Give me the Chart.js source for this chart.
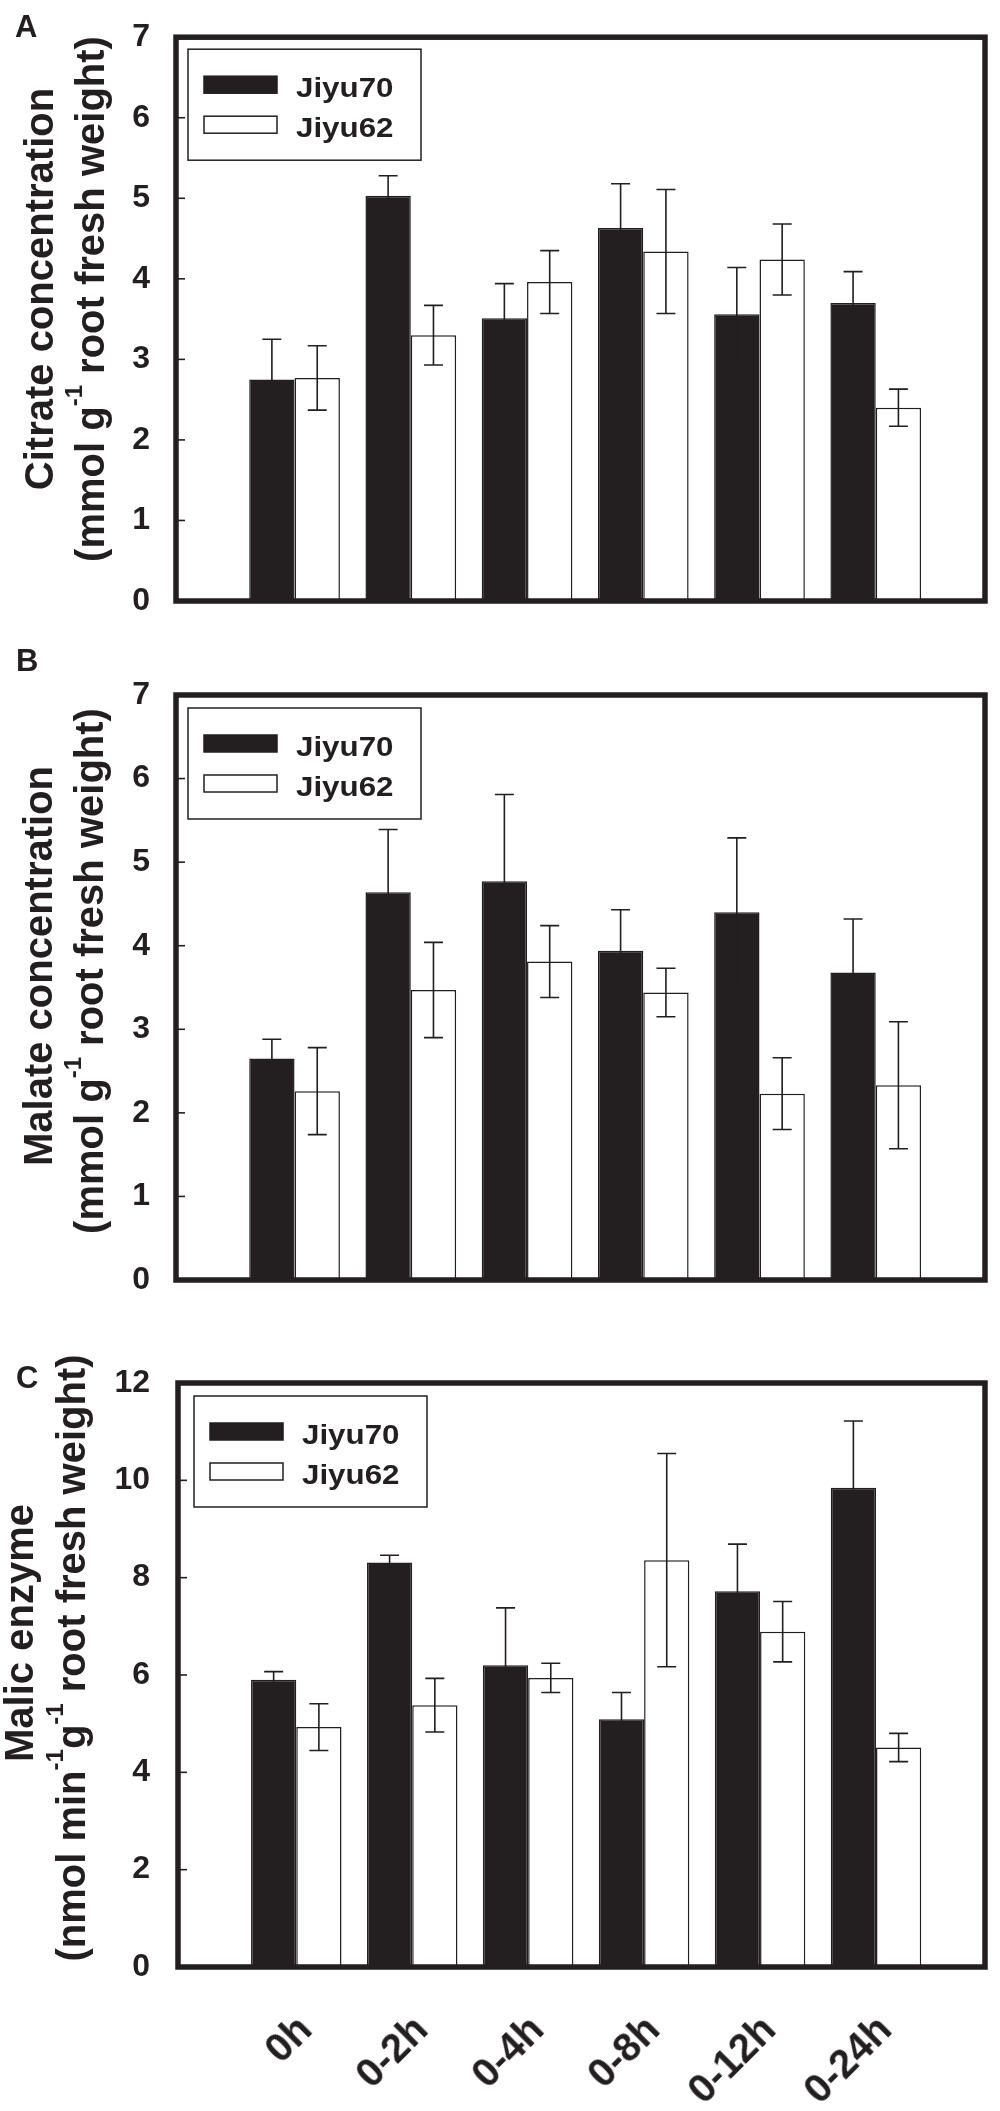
<!DOCTYPE html>
<html><head><meta charset="utf-8">
<script src="https://cdn.jsdelivr.net/npm/chart.js@4.4.1/dist/chart.umd.min.js"></script>
<style>
html,body{margin:0;padding:0;background:#fff;}
body{width:1000px;height:2111px;position:relative;overflow:hidden;}
canvas{position:absolute;left:0;}
</style></head><body>
<canvas id="cA" width="1000" height="640" style="top:0px"></canvas>
<canvas id="cB" width="1000" height="700" style="top:640px"></canvas>
<canvas id="cC" width="1000" height="771" style="top:1340px"></canvas>
<script>
// ---------------- data ----------------
const categories = ['0h', '0-2h', '0-4h', '0-8h', '0-12h', '0-24h'];
const seriesNames = ['Jiyu70', 'Jiyu62'];

const citrateJiyu70    = [2.75, 5.03, 3.51, 4.63, 3.56, 3.70];
const citrateJiyu70Err = [0.50, 0.25, 0.43, 0.55, 0.58, 0.39];
const citrateJiyu62    = [2.77, 3.30, 3.96, 4.34, 4.24, 2.40];
const citrateJiyu62Err = [0.40, 0.37, 0.39, 0.77, 0.44, 0.23];

const malateJiyu70     = [2.65, 4.64, 4.77, 3.94, 4.40, 3.68];
const malateJiyu70Err  = [0.23, 0.75, 1.04, 0.49, 0.89, 0.64];
const malateJiyu62     = [2.26, 3.47, 3.81, 3.44, 2.23, 2.33];
const malateJiyu62Err  = [0.52, 0.57, 0.43, 0.29, 0.43, 0.76];

const enzymeJiyu70     = [5.90, 8.31, 6.20, 5.09, 7.72, 9.85];
const enzymeJiyu70Err  = [0.17, 0.15, 1.18, 0.55, 0.97, 1.37];
const enzymeJiyu62     = [4.93, 5.38, 5.94, 8.36, 6.89, 4.51];
const enzymeJiyu62Err  = [0.48, 0.55, 0.30, 2.19, 0.62, 0.29];

const concentrationTicks = [0, 1, 2, 3, 4, 5, 6, 7];
const enzymeTicks = [0, 2, 4, 6, 8, 10, 12];

// ---------------- styling ----------------
const INK = '#231f20';
const FONT = '"Liberation Sans", Arial, Helvetica, sans-serif';
Chart.defaults.font.family = FONT;
Chart.defaults.color = INK;

function drawTitleLine(ctx, segs, baseX, centerY, size) {
  let total = 0;
  const parts = segs.map(s => {
    const sz = s.sup ? Math.round(size * 0.6) : size;
    ctx.font = 'bold ' + sz + 'px ' + FONT;
    const w = ctx.measureText(s.t).width;
    total += w;
    return { t: s.t, sz: sz, w: w, sup: s.sup };
  });
  ctx.save();
  ctx.translate(baseX, centerY);
  ctx.rotate(-Math.PI / 2);
  ctx.fillStyle = INK;
  ctx.textBaseline = 'alphabetic';
  ctx.textAlign = 'left';
  let x = -total / 2;
  parts.forEach(p => {
    ctx.font = 'bold ' + p.sz + 'px ' + FONT;
    ctx.fillText(p.t, x, p.sup ? -size * 0.55 : 0);
    x += p.w;
  });
  ctx.restore();
}

// draws a label whose end (middle of its height) sits at (ax, ay), rotated -45 degrees
function drawDiagonalLabel(ctx, text, ax, ay, size) {
  const font = 'bold ' + size + 'px ' + FONT;
  ctx.font = font;
  const w = Math.ceil(ctx.measureText(text).width) + 4;
  const h = Math.ceil(size * 1.4);
  const off = document.createElement('canvas');
  off.width = w; off.height = h;
  const o = off.getContext('2d');
  o.font = font;
  o.fillStyle = INK;
  o.textAlign = 'right';
  o.textBaseline = 'middle';
  o.fillText(text, w - 2, h / 2);
  ctx.save();
  ctx.translate(ax, ay);
  ctx.rotate(-Math.PI / 4);
  ctx.drawImage(off, -(w - 2), -h / 2);
  ctx.restore();
}

const figPlugin = {
  id: 'fig',
  afterDatasetsDraw(chart, args, opts) {
    const ctx = chart.ctx;
    const a = chart.chartArea;
    const ys = chart.scales.y;
    ctx.save();
    // error bars
    ctx.strokeStyle = INK;
    ctx.lineWidth = 1.6;
    chart.data.datasets.forEach((ds, i) => {
      const meta = chart.getDatasetMeta(i);
      meta.data.forEach((el, j) => {
        const pt = ds.data[j], e = ds.errors[j];
        if (!pt || e == null) return;
        const x = el.x;
        const yt = ys.getPixelForValue(pt.y + e);
        const yb = ys.getPixelForValue(pt.y - e);
        const c = opts.cap / 2;
        ctx.beginPath();
        ctx.moveTo(x, yt); ctx.lineTo(x, yb);
        ctx.moveTo(x - c, yt); ctx.lineTo(x + c, yt);
        ctx.moveTo(x - c, yb); ctx.lineTo(x + c, yb);
        ctx.stroke();
      });
    });
    // inward tick marks on the y axis
    ctx.lineWidth = 1.6;
    ys.ticks.forEach(t => {
      const py = ys.getPixelForValue(t.value);
      ctx.beginPath();
      ctx.moveTo(a.left, py); ctx.lineTo(a.left + 9, py);
      ctx.stroke();
    });
    // frame
    ctx.lineWidth = 5.5;
    ctx.lineJoin = 'miter';
    ctx.strokeRect(a.left, a.top, a.right - a.left, a.bottom - a.top);
    // legend
    const lg = opts.legend;
    const bx = a.left + lg.dx, by = a.top + lg.dy;
    ctx.fillStyle = '#ffffff';
    ctx.fillRect(bx, by, lg.w, lg.h);
    ctx.lineWidth = 1.5;
    ctx.strokeRect(bx, by, lg.w, lg.h);
    chart.data.datasets.forEach((ds, i) => {
      const sy = by + lg.rows[i];
      ctx.fillStyle = ds.backgroundColor;
      ctx.fillRect(bx + lg.sx, sy, lg.sw, lg.sh);
      ctx.strokeStyle = INK;
      ctx.lineWidth = 1.5;
      ctx.strokeRect(bx + lg.sx, sy, lg.sw, lg.sh);
      ctx.save();
      ctx.translate(bx + lg.tx, sy + lg.sh / 2 + lg.base);
      ctx.scale(lg.stretch, 1);
      ctx.fillStyle = INK;
      ctx.font = 'bold ' + lg.font + 'px ' + FONT;
      ctx.textBaseline = 'alphabetic';
      ctx.textAlign = 'left';
      ctx.fillText(ds.label, 0, 0);
      ctx.restore();
    });
    ctx.restore();
  },
  afterDraw(chart, args, opts) {
    const ctx = chart.ctx;
    const a = chart.chartArea;
    ctx.save();
    ctx.fillStyle = INK;
    ctx.font = 'bold 31px ' + FONT;
    ctx.textBaseline = 'alphabetic';
    ctx.textAlign = 'left';
    ctx.fillText(opts.letter.t, opts.letter.x, opts.letter.y);
    opts.title.forEach(line => drawTitleLine(ctx, line.segs, line.x, line.cy, 40));
    // category labels under the x axis (rotated 45 degrees)
    if (opts.xLabels) {
      const xs = chart.scales.x;
      chart.data.labels.forEach((lab, i) => {
        const px = xs.getPixelForValue(i + 1);
        drawDiagonalLabel(ctx, lab, px + opts.xLabels.dx, a.bottom + opts.xLabels.dy, 40);
      });
    }
    ctx.restore();
  }
};

function makeDatasets(v70, e70, v62, e62) {
  const pts = arr => arr.map((v, i) => ({ x: i + 1, y: v }));
  return [
    { label: seriesNames[0], data: pts(v70), errors: e70,
      backgroundColor: INK, borderColor: INK, borderWidth: 1.5 },
    { label: seriesNames[1], data: pts(v62), errors: e62,
      backgroundColor: '#ffffff', borderColor: INK, borderWidth: 1.5 }
  ];
}

function makeChart(id, cfg) {
  return new Chart(document.getElementById(id), {
    type: 'bar',
    data: { labels: categories, datasets: cfg.datasets },
    options: {
      responsive: false,
      animation: false,
      devicePixelRatio: 1,
      layout: { padding: { left: 0, right: 15, top: cfg.top, bottom: cfg.bottom } },
      datasets: { bar: { categoryPercentage: 0.83, barPercentage: 1.0 } },
      plugins: {
        legend: { display: false },
        tooltip: { enabled: false },
        fig: { cap: 19, legend: cfg.legend, letter: cfg.letter, title: cfg.title, xLabels: cfg.xLabels }
      },
      scales: {
        x: {
          type: 'linear',
          offset: false,
          min: -0.02, max: 6.94,
          grid: { display: false, offset: false },
          border: { display: false },
          ticks: { display: false },
          afterFit: s => { s.height = cfg.xHeight; }
        },
        y: {
          min: 0, max: cfg.ticks[cfg.ticks.length - 1],
          grid: { display: false },
          border: { display: false },
          afterBuildTicks: s => { s.ticks = cfg.ticks.map(v => ({ value: v })); },
          ticks: { font: { size: 32, weight: 'bold' }, color: INK, padding: cfg.tickPad },
          afterFit: s => { s.width = cfg.yWidth; }
        }
      }
    },
    plugins: [figPlugin]
  });
}

const legendBase = { w: 233, h: 111, sx: 16, sw: 73, sh: 17, rows: [27, 67], tx: 108,
                     font: 27, stretch: 1.16, base: 12 };

makeChart('cA', {
  datasets: makeDatasets(citrateJiyu70, citrateJiyu70Err, citrateJiyu62, citrateJiyu62Err),
  ticks: concentrationTicks, top: 19, bottom: 39, yWidth: 176, tickPad: 18, xHeight: 0,
  legend: Object.assign({ dx: 12, dy: 12 }, legendBase),
  letter: { t: 'A', x: 15, y: 37 },
  title: [
    { segs: [{ t: 'Citrate concentration' }], x: 53, cy: 289 },
    { segs: [{ t: '(mmol g' }, { t: '-1', sup: true }, { t: ' root fresh weight)' }], x: 104, cy: 299 }
  ]
});

makeChart('cB', {
  datasets: makeDatasets(malateJiyu70, malateJiyu70Err, malateJiyu62, malateJiyu62Err),
  ticks: concentrationTicks, top: 55, bottom: 60, yWidth: 176, tickPad: 18, xHeight: 0,
  legend: Object.assign({ dx: 12, dy: 13 }, legendBase),
  letter: { t: 'B', x: 16, y: 31 },
  title: [
    { segs: [{ t: 'Malate concentration' }], x: 52, cy: 326 },
    { segs: [{ t: '(mmol g' }, { t: '-1', sup: true }, { t: ' root fresh weight)' }], x: 103, cy: 331 }
  ]
});

makeChart('cC', {
  datasets: makeDatasets(enzymeJiyu70, enzymeJiyu70Err, enzymeJiyu62, enzymeJiyu62Err),
  ticks: enzymeTicks, top: 43, bottom: 0, yWidth: 178, tickPad: 20, xHeight: 144,
  legend: Object.assign({ dx: 16, dy: 13 }, legendBase),
  letter: { t: 'C', x: 16, y: 48 },
  xLabels: { dx: 10, dy: 57 },
  title: [
    { segs: [{ t: 'Malic enzyme' }], x: 33, cy: 293 },
    { segs: [{ t: '(nmol min' }, { t: '-1', sup: true }, { t: 'g' }, { t: '-1', sup: true }, { t: ' root fresh weight)' }], x: 85, cy: 318 }
  ]
});
</script>
</body></html>
